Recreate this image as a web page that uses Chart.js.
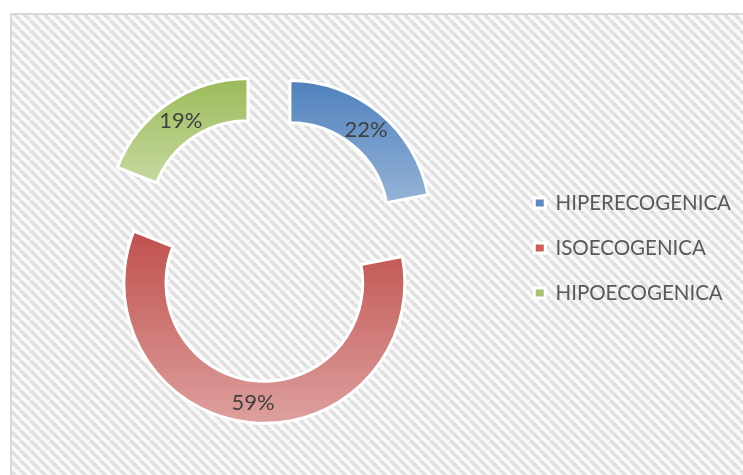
<!DOCTYPE html>
<html>
<head>
<meta charset="utf-8">
<script src="https://cdn.jsdelivr.net/npm/chart.js@4.4.1/dist/chart.umd.min.js"></script>
<style>
  html, body { margin: 0; padding: 0; background: #fff; }
</style>
</head>
<body>
<canvas id="c" width="743" height="475"></canvas>
<script>
// data
const labels = ['HIPERECOGENICA', 'ISOECOGENICA', 'HIPOECOGENICA'];
const shares = [22, 59, 19];

// styles
const legendColors = ['#5b8ac6', '#cd5e5b', '#a7c46c'];
const gradTop = ['#4f81bd', '#c0504d', '#9bbb59'];
const gradBottom = ['#95b3d7', '#dda09e', '#c6d9a0'];
const EXPLODE = 35;
const FONT = 'Lato';

// hatched plot background with the light grey frame
const backdrop = {
    id: 'backdrop',
    beforeDraw(chart) {
        const ctx = chart.ctx;
        ctx.save();
        ctx.fillStyle = '#ffffff';
        ctx.fillRect(0, 0, chart.width, chart.height);

        const tile = document.createElement('canvas');
        tile.width = 10; tile.height = 10;
        const t = tile.getContext('2d');
        t.fillStyle = '#f9f9f9';
        t.fillRect(0, 0, 10, 10);
        t.strokeStyle = '#e0e0e0';
        t.lineWidth = 3.5;
        t.beginPath();
        [-10, 0, 10].forEach(o => { t.moveTo(o, 0); t.lineTo(o + 10, 10); });
        t.stroke();

        ctx.fillStyle = ctx.createPattern(tile, 'repeat');
        ctx.fillRect(12, 15, chart.width, chart.height);
        ctx.strokeStyle = '#d9d9d9';
        ctx.lineWidth = 2;
        ctx.strokeRect(11, 14, chart.width + 20, chart.height + 20);
        ctx.restore();
    }
};

const sliceShift = (arc) => {
    const mid = (arc.startAngle + arc.endAngle) / 2;
    return { dx: Math.cos(mid) * EXPLODE, dy: Math.sin(mid) * EXPLODE };
};

// vertical extent of a slice, for its top-to-bottom gradient
const sliceBounds = (arc) => {
    let top = Infinity, bottom = -Infinity;
    for (let k = 0; k <= 60; k++) {
        const a = arc.startAngle + (arc.endAngle - arc.startAngle) * k / 60;
        [arc.innerRadius, arc.outerRadius].forEach(r => {
            const y = arc.y + Math.sin(a) * r;
            top = Math.min(top, y);
            bottom = Math.max(bottom, y);
        });
    }
    return { top, bottom };
};

// draws every arc pulled out along its mid angle, plus the % labels
const explodedSlices = {
    id: 'explodedSlices',
    beforeDatasetDraw(chart, args) {
        const ctx = chart.ctx;
        args.meta.data.forEach((arc, i) => {
            const { dx, dy } = sliceShift(arc);
            const { top, bottom } = sliceBounds(arc);
            const grad = ctx.createLinearGradient(0, top, 0, bottom);
            grad.addColorStop(0, gradTop[i]);
            grad.addColorStop(1, gradBottom[i]);
            const opts = arc.options;
            arc.options = Object.assign({}, opts, { backgroundColor: grad });
            ctx.save();
            ctx.translate(dx, dy);
            arc.draw(ctx);
            ctx.restore();
            arc.options = opts;
        });
        return false;
    },
    afterDatasetsDraw(chart) {
        const ctx = chart.ctx;
        const meta = chart.getDatasetMeta(0);
        const total = shares.reduce((a, b) => a + b, 0);
        ctx.save();
        ctx.font = `22px ${FONT}`;
        ctx.fillStyle = '#404040';
        ctx.textAlign = 'center';
        ctx.textBaseline = 'middle';
        meta.data.forEach((arc, i) => {
            const { dx, dy } = sliceShift(arc);
            const p = arc.getCenterPoint();
            ctx.fillText(Math.round(shares[i] / total * 100) + '%', p.x + dx, p.y + dy + 1);
        });
        ctx.restore();
    }
};

new Chart(document.getElementById('c'), {
    type: 'doughnut',
    data: {
        labels: labels,
        datasets: [{
            data: shares,
            backgroundColor: legendColors,
            borderColor: '#ffffff',
            borderWidth: 3,
            hoverBorderWidth: 3
        }]
    },
    options: {
        responsive: false,
        animation: false,
        events: [],
        cutout: '70%',
        layout: { padding: { top: 106, bottom: 85, left: 25.5, right: 2 } },
        plugins: {
            legend: {
                position: 'right',
                align: 'center',
                labels: {
                    boxWidth: 11, boxHeight: 10, padding: 24.5,
                    color: '#595959',
                    font: { family: FONT, size: 20.5 }
                }
            },
            tooltip: { enabled: false }
        }
    },
    plugins: [backdrop, explodedSlices]
});
</script>
</body>
</html>
